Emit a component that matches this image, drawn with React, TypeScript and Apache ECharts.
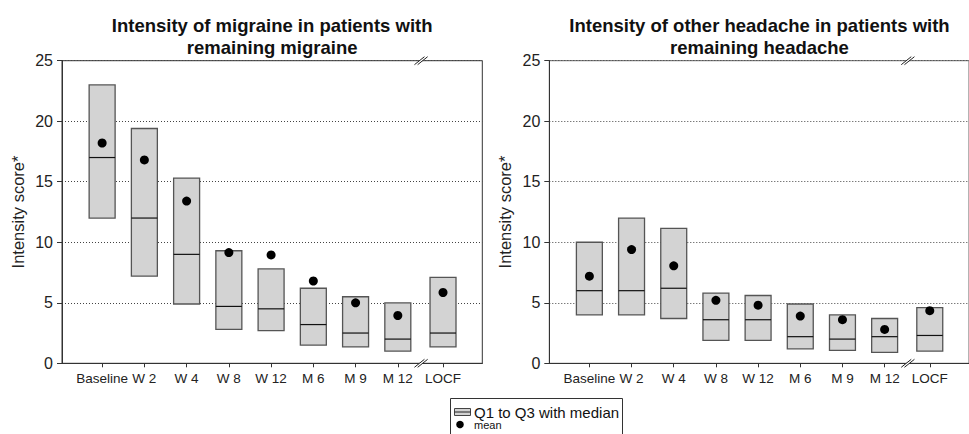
import React, { useEffect, useRef } from "react";
import * as echarts from "echarts";

const categories = ["Baseline", "W 2", "W 4", "W 8", "W 12", "M 6", "M 9", "M 12", "LOCF"];
const positions = [1, 2, 3, 4, 5, 6, 7, 8, 9.07];
const breakPos = 8.55;

const migraineQ1 = [12, 7.2, 4.9, 2.8, 2.7, 1.5, 1.35, 1.0, 1.35];
const migraineMedian = [17, 12, 9, 4.7, 4.5, 3.2, 2.5, 2.0, 2.5];
const migraineQ3 = [23, 19.4, 15.3, 9.3, 7.8, 6.2, 5.5, 5.0, 7.1];
const migraineMean = [18.2, 16.8, 13.4, 9.15, 8.95, 6.8, 5.0, 3.95, 5.85];

const headacheQ1 = [4.0, 4.0, 3.7, 1.9, 1.9, 1.2, 1.07, 0.9, 1.0];
const headacheMedian = [6.0, 6.0, 6.2, 3.6, 3.6, 2.2, 2.0, 2.2, 2.3];
const headacheQ3 = [10.0, 12.0, 11.15, 5.8, 5.6, 4.9, 4.0, 3.7, 4.6];
const headacheMean = [7.2, 9.4, 8.05, 5.2, 4.8, 3.9, 3.6, 2.8, 4.35];

const yTicks = [0, 5, 10, 15, 20, 25];

const titles = [
  "Intensity of migraine in patients with\nremaining migraine",
  "Intensity of other headache in patients with\nremaining headache",
];
const yName = "Intensity score*";
const legendLabels = ["Q1 to Q3 with median", "mean"];

const FONT = "'Liberation Sans', Arial, Helvetica, sans-serif";

function labelFor(v: number): string {
  for (let i = 0; i < positions.length; i++) {
    if (Math.abs(positions[i] - v) < 0.01) return categories[i];
  }
  return "";
}

function boxRender(params: any, api: any) {
  const x = api.value(0);
  const q1 = api.value(1);
  const med = api.value(2);
  const q3 = api.value(3);
  const pTop = api.coord([x, q3]);
  const pBot = api.coord([x, q1]);
  const pMed = api.coord([x, med]);
  const w = api.size([0.615, 0])[0];
  return {
    type: "group",
    children: [
      {
        type: "rect",
        shape: { x: pTop[0] - w / 2, y: pTop[1], width: w, height: pBot[1] - pTop[1] },
        style: { fill: "#d3d3d3", stroke: "#555", lineWidth: 1.3 },
      },
      {
        type: "line",
        shape: { x1: pMed[0] - w / 2, y1: pMed[1], x2: pMed[0] + w / 2, y2: pMed[1] },
        style: { stroke: "#111", lineWidth: 1.2 },
      },
    ],
  };
}

function breakRender(params: any, api: any) {
  const x = api.value(0);
  const b = api.coord([x, yTicks[0]]);
  const t = api.coord([x, yTicks[yTicks.length - 1]]);
  const children: any[] = [];
  [b, t].forEach((p) => {
    const cx = p[0];
    const cy = p[1];
    const dx = 5;
    const dy = 4;
    const off = 1.6;
    children.push({
      type: "polygon",
      shape: {
        points: [
          [cx - dx - off, cy + dy],
          [cx + dx - off, cy - dy],
          [cx + dx + off, cy - dy],
          [cx - dx + off, cy + dy],
        ],
      },
      style: { fill: "#fff" },
    });
    children.push({
      type: "line",
      shape: { x1: cx - dx - off, y1: cy + dy, x2: cx + dx - off, y2: cy - dy },
      style: { stroke: "#222", lineWidth: 1 },
    });
    children.push({
      type: "line",
      shape: { x1: cx - dx + off, y1: cy + dy, x2: cx + dx + off, y2: cy - dy },
      style: { stroke: "#222", lineWidth: 1 },
    });
  });
  return { type: "group", children };
}

export default function App() {
  const ref = useRef<HTMLDivElement>(null);

  useEffect(() => {
    if (!ref.current) return;
    const chart = echarts.init(ref.current, undefined, { renderer: "svg" });

    const grids = [
      { left: 62, top: 60.7, width: 420.3, height: 302.6 },
      { left: 549.3, top: 60.7, width: 420.3, height: 302.6 },
    ];
    const borderColors = ["#333", "#666"];

    const xAxes = grids.map((g, i) => ({
      type: "value",
      gridIndex: i,
      min: 0.05,
      max: 10,
      axisLine: { show: true, lineStyle: { color: "#333", width: 1 } },
      axisTick: {
        show: true,
        customValues: positions,
        length: 4,
        lineStyle: { color: "#333" },
      },
      axisLabel: {
        show: true,
        customValues: positions,
        formatter: (v: number) => labelFor(v),
        fontFamily: FONT,
        fontSize: 13.5,
        color: "#222",
        margin: 8,
      },
      splitLine: { show: false },
    }));

    const yAxes = grids.map((g, i) => ({
      type: "value",
      gridIndex: i,
      min: 0,
      max: 25,
      interval: 5,
      name: yName,
      nameLocation: "middle",
      nameGap: 36,
      nameTextStyle: { fontFamily: FONT, fontSize: 16.5, color: "#222" },
      axisLine: { show: true, lineStyle: { color: "#333", width: 1 } },
      axisTick: { show: true, length: 5, lineStyle: { color: "#333" } },
      axisLabel: {
        fontFamily: FONT,
        fontSize: 16,
        color: "#222",
        margin: 9,
      },
      splitLine: {
        show: true,
        lineStyle: { color: "#444", type: [1, 2], width: 1 },
      },
    }));

    const groups = [
      { q1: migraineQ1, med: migraineMedian, q3: migraineQ3, mean: migraineMean },
      { q1: headacheQ1, med: headacheMedian, q3: headacheQ3, mean: headacheMean },
    ];

    const series: any[] = [];
    groups.forEach((gr, i) => {
      series.push({
        type: "custom",
        name: legendLabels[0],
        xAxisIndex: i,
        yAxisIndex: i,
        renderItem: boxRender,
        encode: { x: 0, y: [1, 2, 3] },
        data: positions.map((p, k) => [p, gr.q1[k], gr.med[k], gr.q3[k]]),
        z: 3,
      });
      series.push({
        type: "scatter",
        name: legendLabels[1],
        xAxisIndex: i,
        yAxisIndex: i,
        symbol: "circle",
        symbolSize: 9,
        itemStyle: { color: "#000", opacity: 1 },
        data: positions.map((p, k) => [p, gr.mean[k]]),
        z: 5,
      });
      series.push({
        type: "custom",
        xAxisIndex: i,
        yAxisIndex: i,
        renderItem: breakRender,
        encode: { x: 0, y: 1 },
        data: [[breakPos, 0]],
        silent: true,
        z: 10,
      });
    });

    const graphic: any[] = [];
    grids.forEach((g, i) => {
      graphic.push({
        type: "text",
        x: g.left + g.width / 2,
        y: 36,
        style: {
          text: titles[i],
          fontFamily: FONT,
          fontSize: 18.5,
          fontWeight: "bold",
          fill: "#111",
          align: "center",
          verticalAlign: "middle",
          lineHeight: 22,
        },
      });
    });

    // legend
    graphic.push({
      type: "group",
      children: [
        {
          type: "rect",
          shape: { x: 450.5, y: 398.5, width: 172, height: 44 },
          style: { fill: "#fff", stroke: "#333", lineWidth: 1 },
        },
        {
          type: "rect",
          shape: { x: 454.5, y: 408.5, width: 16, height: 7 },
          style: { fill: "#d3d3d3", stroke: "#444", lineWidth: 1 },
        },
        {
          type: "line",
          shape: { x1: 454.5, y1: 412, x2: 470.5, y2: 412 },
          style: { stroke: "#222", lineWidth: 1 },
        },
        {
          type: "text",
          x: 474,
          y: 412,
          style: {
            text: legendLabels[0],
            fontFamily: FONT,
            fontSize: 15,
            fill: "#111",
            align: "left",
            verticalAlign: "middle",
          },
        },
        {
          type: "circle",
          shape: { cx: 460, cy: 424.5, r: 3.8 },
          style: { fill: "#000" },
        },
        {
          type: "text",
          x: 474,
          y: 425,
          style: {
            text: legendLabels[1],
            fontFamily: FONT,
            fontSize: 11,
            fill: "#111",
            align: "left",
            verticalAlign: "middle",
          },
        },
      ],
    });

    chart.setOption({
      animation: false,
      backgroundColor: "#fff",
      grid: grids.map((g, i) => ({
        ...g,
        show: true,
        borderColor: borderColors[i],
        borderWidth: 1,
        backgroundColor: "transparent",
        containLabel: false,
      })),
      xAxis: xAxes,
      yAxis: yAxes,
      series,
      graphic,
    });

    return () => {
      chart.dispose();
    };
  }, []);

  return (
    <div
      ref={ref}
      style={{ position: "fixed", left: 0, top: 0, width: 969, height: 434 }}
    />
  );
}
